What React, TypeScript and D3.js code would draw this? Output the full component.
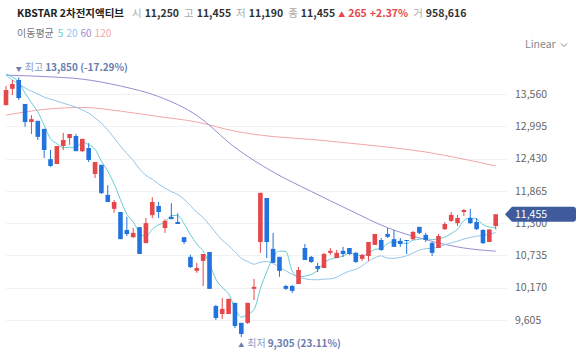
import React from "react"
import * as d3 from "d3"

const W = 580
const H = 353

// daily candles, oldest first
const opens = [
  13365, 13650, 13805, 13385, 13070, 13090, 12950, 12420, 12335, 12650,
  12790, 12825, 12560, 12615, 12160, 12320, 11795, 11550, 11495, 11180,
  11055, 11230, 10950, 11440, 11600, 11215, 11410, 11320, 11055, 10710,
  10465, 10640, 10795, 9850, 9710, 9710, 9905, 9555, 9555, 10150,
  10970, 11740, 10850, 10710, 10200, 10200, 10235, 10865, 10710, 10550,
  10515, 10780, 10690, 10815, 10865, 10780, 10675, 10725, 10920, 11005,
  11110, 11020, 10990, 11005, 11020, 11235, 11095, 10955, 10865, 11195,
  11340, 11300, 11495, 11390, 11320, 11180, 10970, 11250,
]
const highs = [
  13700, 13805, 13850, 13385, 13190, 13090, 12950, 12580, 12650, 12880,
  12860, 12860, 12775, 12700, 12370, 12320, 11965, 11705, 11495, 11410,
  11215, 11230, 11390, 11755, 11670, 11370, 11650, 11475, 11055, 10745,
  10605, 10760, 10795, 9870, 9990, 9975, 9905, 9555, 9905, 10325,
  11830, 11740, 11130, 10710, 10220, 10220, 10535, 10935, 10725, 10605,
  10780, 10865, 10830, 10885, 10865, 10795, 10760, 10970, 11110, 11040,
  11215, 11180, 11040, 11005, 11165, 11235, 11130, 10970, 11110, 11320,
  11495, 11445, 11550, 11550, 11390, 11195, 11190, 11455,
]
const lows = [
  13365, 13545, 13455, 12985, 12860, 12755, 12440, 12285, 12335, 12580,
  12670, 12560, 12545, 12370, 12090, 11810, 11670, 11480, 11020, 11075,
  11040, 10760, 10950, 11390, 11390, 11130, 11370, 11285, 10935, 10515,
  10430, 10200, 10150, 9605, 9620, 9710, 9465, 9305, 9535, 9955,
  10780, 10690, 10605, 10360, 10130, 10080, 10235, 10655, 10605, 10445,
  10515, 10745, 10690, 10710, 10745, 10605, 10640, 10640, 10920, 10815,
  11040, 10885, 10885, 10760, 11005, 11110, 10970, 10725, 10865, 11180,
  11320, 11250, 11425, 11285, 11180, 10935, 10970, 11190,
]
const closes = [
  13630, 13735, 13490, 13070, 13120, 12810, 12580, 12300, 12650, 12755,
  12860, 12560, 12775, 12405, 12370, 11825, 11670, 11670, 11020, 11110,
  11130, 10760, 11300, 11670, 11495, 11340, 11370, 11285, 10970, 10530,
  10515, 10760, 10150, 9640, 9800, 9975, 9500, 9360, 9905, 10185,
  11830, 10970, 10605, 10465, 10150, 10115, 10480, 10655, 10620, 10500,
  10760, 10815, 10780, 10760, 10760, 10620, 10745, 10970, 11110, 10830,
  11060, 10885, 10935, 10990, 11145, 11130, 11005, 10780, 11075, 11285,
  11445, 11390, 11530, 11300, 11195, 10950, 11190, 11455,
]
const volume = 958616

// moving-average values before enough candles are on screen
const ma5Head = [13910, 13855, 13770, 13575]
const ma20Head = [
  13890, 13805, 13735, 13665, 13610, 13560, 13505, 13470, 13435, 13400,
  13365, 13330, 13280, 13225, 13140, 13050, 12930, 12790, 12650,
]
// long averages, read at every sixth candle
const maSampleIdx = [0, 6, 12, 18, 24, 30, 36, 42, 48, 54, 60, 66, 72, 77]
const ma60 = [13890, 13865, 13820, 13700, 13515, 13185, 12625, 12195, 11855, 11530, 11220, 11010, 10865, 10810]
const ma120 = [13190, 13290, 13325, 13260, 13165, 13070, 12910, 12815, 12765, 12700, 12630, 12545, 12420, 12300]

const yTicks = [13560, 12995, 12430, 11865, 11300, 10735, 10170, 9605]

const UP = "#e5474b"
const DOWN = "#2273de"
const C5 = "#66cdd3"
const C20 = "#93c6ea"
const C60 = "#9a8cd4"
const C120 = "#f2a7a8"
const FONT = "'Noto Sans CJK KR', 'Noto Sans', sans-serif"

const fmt = d3.format(",")

function movingAvg(n: number, head: number[]) {
  return closes.map((_, i) => (i < n - 1 ? head[i] : d3.mean(closes.slice(i - n + 1, i + 1))!))
}

export default function App() {
  const n = closes.length
  const x = d3.scaleLinear().domain([0, n - 1]).range([6, 495.7])
  const y = d3.scaleLinear().domain([9605, 13560]).range([320, 94])
  const bodyW = 4.6

  const ma5 = movingAvg(5, ma5Head)
  const ma20 = movingAvg(20, ma20Head)

  const lineAll = d3
    .line<number>()
    .x((_, i) => x(i))
    .y((d) => y(d))
    .curve(d3.curveMonotoneX)
  const lineSampled = d3
    .line<number>()
    .x((_, i) => x(maSampleIdx[i]))
    .y((d) => y(d))
    .curve(d3.curveMonotoneX)

  const last = n - 1
  const prevClose = closes[last - 1]
  const change = closes[last] - prevClose
  const changePct = (change / prevClose) * 100

  const hiIdx = d3.maxIndex(highs)
  const loIdx = d3.minIndex(lows)
  const hiPct = ((closes[last] - highs[hiIdx]) / highs[hiIdx]) * 100
  const loPct = ((closes[last] - lows[loIdx]) / lows[loIdx]) * 100

  const tagY = y(closes[last])
  const hiY = y(highs[hiIdx]) - 6
  const loY = y(lows[loIdx]) + 10

  return (
    <svg
      width={W}
      height={H}
      style={{ position: "absolute", left: 0, top: 0, background: "#fff" }}
      fontFamily={FONT}
    >
      {/* header */}
      <text x={17} y={17} fontSize={10.5}>
        <tspan fontWeight={700} fill="#222">KBSTAR 2차전지액티브</tspan>
        <tspan dx={8} fill="#aaa">시</tspan>
        <tspan dx={3} fontWeight={700} fill="#333">{fmt(opens[last])}</tspan>
        <tspan dx={5} fill="#aaa">고</tspan>
        <tspan dx={3} fontWeight={700} fill="#333">{fmt(highs[last])}</tspan>
        <tspan dx={5} fill="#aaa">저</tspan>
        <tspan dx={3} fontWeight={700} fill="#333">{fmt(lows[last])}</tspan>
        <tspan dx={5} fill="#aaa">종</tspan>
        <tspan dx={3} fontWeight={700} fill="#333">{fmt(closes[last])}</tspan>
        <tspan dx={3} fill={UP} fontSize={7}>▲</tspan>
        <tspan dx={3} fill={UP} fontWeight={600}>{fmt(change)}</tspan>
        <tspan dx={3} fill={UP} fontWeight={600}>{`+${changePct.toFixed(2)}%`}</tspan>
        <tspan dx={5} fill="#aaa">거</tspan>
        <tspan dx={3} fontWeight={700} fill="#333">{fmt(volume)}</tspan>
      </text>

      {/* legend */}
      <text x={17} y={37} fontSize={10}>
        <tspan fill="#777">이동평균</tspan>
        <tspan dx={4} fill={C5}>5</tspan>
        <tspan dx={3} fill={C20}>20</tspan>
        <tspan dx={3} fill={C60}>60</tspan>
        <tspan dx={3} fill={C120}>120</tspan>
      </text>

      <text x={525} y={48} fontSize={10.5} fill="#888">Linear</text>
      <path d="M561,43.5 L564,46.5 L567,43.5" fill="none" stroke="#888" strokeWidth={1} />

      {/* grid + axis */}
      {yTicks.map((t) => (
        <g key={t}>
          <line x1={6} x2={507} y1={Math.round(y(t)) + 0.5} y2={Math.round(y(t)) + 0.5} stroke="#f2f2f2" />
          <text x={515} y={y(t)} dy="0.35em" fontSize={10.5} fill="#666">
            {fmt(t)}
          </text>
        </g>
      ))}

      {/* moving averages */}
      <path d={lineSampled(ma120) || undefined} fill="none" stroke={C120} strokeWidth={1} />
      <path d={lineSampled(ma60) || undefined} fill="none" stroke={C60} strokeWidth={1} />
      <path d={lineAll(ma20) || undefined} fill="none" stroke={C20} strokeWidth={1} />
      <path d={lineAll(ma5) || undefined} fill="none" stroke={C5} strokeWidth={1} />

      {/* candles */}
      {closes.map((c, i) => {
        const o = opens[i]
        const col = c >= o ? UP : DOWN
        const cx = x(i)
        const top = y(Math.max(o, c))
        const bot = y(Math.min(o, c))
        return (
          <g key={i}>
            <line x1={cx} x2={cx} y1={y(highs[i])} y2={y(lows[i])} stroke={col} strokeWidth={1} />
            <rect x={cx - bodyW / 2} y={top} width={bodyW} height={Math.max(1, bot - top)} fill={col} />
          </g>
        )
      })}

      {/* high / low markers */}
      <text x={x(hiIdx)} y={hiY} fontSize={6} fill="#6a7db0" textAnchor="middle">▼</text>
      <text x={x(hiIdx) + 6} y={hiY} fontSize={10} fill="#6a7db0">
        <tspan fill="#8d9cc4">최고</tspan>
        <tspan dx={2} fontWeight={600}>{`${fmt(highs[hiIdx])} (${hiPct.toFixed(2)}%)`}</tspan>
      </text>
      <text x={x(loIdx)} y={loY} fontSize={6} fill="#6a7db0" textAnchor="middle">▲</text>
      <text x={x(loIdx) + 6} y={loY} fontSize={10} fill="#6a7db0">
        <tspan fill="#8d9cc4">최저</tspan>
        <tspan dx={2} fontWeight={600}>{`${fmt(lows[loIdx])} (${loPct.toFixed(2)}%)`}</tspan>
      </text>

      {/* last price tag */}
      <path
        d={`M505,${tagY} L512,${tagY - 7.5} L573,${tagY - 7.5} Q576,${tagY - 7.5} 576,${tagY - 4.5} L576,${tagY + 4.5} Q576,${tagY + 7.5} 573,${tagY + 7.5} L512,${tagY + 7.5} Z`}
        fill="#3f5b9c"
      />
      <text x={515} y={tagY} dy="0.35em" fontSize={10.5} fill="#fff">
        {fmt(closes[last])}
      </text>
    </svg>
  )
}
